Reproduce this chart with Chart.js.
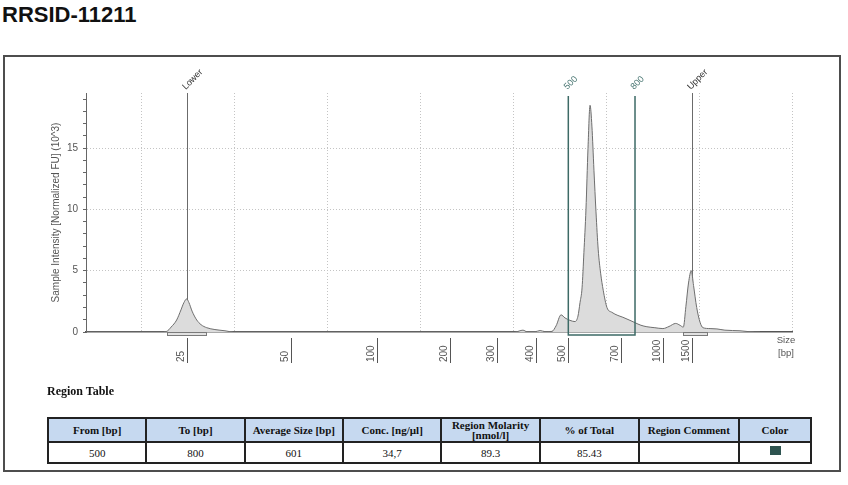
<!DOCTYPE html>
<html><head><meta charset="utf-8">
<script src="https://cdn.jsdelivr.net/npm/chart.js@4.4.1/dist/chart.umd.min.js"></script>
<style>
html,body{margin:0;padding:0;background:#fff;width:848px;height:485px;overflow:hidden;position:relative;}
#title{position:absolute;left:2px;top:2px;font:bold 22px/25px "Liberation Sans",Arial,sans-serif;color:#111;white-space:nowrap;}
#box{position:absolute;left:3px;top:55px;width:838px;height:417px;box-sizing:border-box;border:2px solid #4d4d4d;}
#cv{position:absolute;left:0;top:0;}
#rt{position:absolute;left:47px;top:384px;font:bold 12px/14px "Liberation Serif",serif;color:#111;}
#tbl{position:absolute;left:47px;top:417px;border-collapse:collapse;table-layout:fixed;font-family:"Liberation Serif",serif;}
#tbl th,#tbl td{border:2px solid #222;text-align:center;padding:0;font-size:11px;color:#111;}
#tbl th{background:#c6d9f0;height:22px;font-weight:bold;line-height:10px;}
#tbl td{height:19px;}
.sw{display:inline-block;width:11px;height:9px;vertical-align:top;margin-top:-1px;}
</style></head>
<body>
<div id="title">RRSID-11211</div>
<div id="box"></div>
<canvas id="cv" width="848" height="400"></canvas>
<div id="rt">Region Table</div>
<table id="tbl"><thead><tr id="hr"></tr></thead><tbody><tr id="dr"></tr></tbody></table>
<script>
// Electropherogram data: migration time (s) and intensity (10^3 FU)
const migrationTime = [22.0, 25.98, 26.34, 26.58, 26.88, 27.11, 27.27, 27.42, 27.54, 27.71, 27.96, 28.19, 28.50, 28.94, 29.48, 29.93,
  45.09, 45.52, 45.74, 46.17, 46.44, 46.71, 47.08, 47.30, 47.57, 47.78, 48.05, 48.32, 48.48, 48.59, 48.70, 48.80, 48.91, 49.02, 49.13,
  49.23, 49.34, 49.45, 49.57, 49.70, 49.84, 50.04, 50.31, 50.63, 50.90, 51.28, 51.55, 51.87, 52.19, 52.62, 53.05, 53.38, 53.74, 53.97,
  54.15, 54.29, 54.43, 54.58, 54.70, 54.87, 55.05, 55.21, 55.59, 55.96, 56.39, 57.20, 57.74, 58.28];
const intensity = [0, 0, 0.05, 0.4, 0.98, 1.8, 2.4, 2.7, 2.4, 1.7, 0.98, 0.6, 0.35, 0.2, 0.1, 0,
  0, 0.15, 0.02, 0.02, 0.12, 0.03, 0.05, 0.5, 1.4, 1.15, 0.95, 0.85, 1.3, 2.4, 3.6, 6.5, 10, 15, 18.5,
  16.8, 13.2, 9.8, 6.7, 4.8, 3.4, 2.0, 1.6, 1.35, 1.2, 0.95, 0.76, 0.55, 0.43, 0.35, 0.28, 0.45, 0.7, 0.55,
  0.4, 2.1, 4.0, 5.0, 3.8, 2.0, 0.8, 0.35, 0.28, 0.25, 0.15, 0.1, 0.02, 0];

// Ladder calibration (tick labels in bp at their migration times)
const ladderLabels = ['25', '50', '100', '200', '300', '400', '500', '700', '1000', '1500'];
const ladderTime = [27.42, 33.03, 37.65, 41.59, 44.11, 46.22, 47.96, 50.78, 53.06, 54.60];

// Markers
const markerNames = ['Lower', 'Upper'];
const markerTime = [27.42, 54.60];
const markerStart = [26.34, 54.13];
const markerEnd = [28.46, 55.42];

// Region
const regionLabels = ['500', '800'];
const regionTime = [47.96, 51.55];

// Region table
const tableHeaders = ['From [bp]', 'To [bp]', 'Average Size [bp]', 'Conc. [ng/µl]', 'Region Molarity<br>[nmol/l]', '% of Total', 'Region Comment', 'Color'];
const tableValues = ['500', '800', '601', '34,7', '89.3', '85.43', '', ''];
const colWidths = [96.4, 96.3, 96.3, 96.4, 96.3, 97.3, 97.7, 70.7];

const REGION_COLOR = '#3d6a66';
const FONT = '"Liberation Sans", Arial, sans-serif';

// build table
const hr = document.getElementById('hr'), dr = document.getElementById('dr');
tableHeaders.forEach((h, i) => {
  const th = document.createElement('th'); th.innerHTML = h; th.style.width = colWidths[i] + 'px'; hr.appendChild(th);
  const td = document.createElement('td'); td.textContent = tableValues[i];
  if (i === tableHeaders.length - 1) { const s = document.createElement('span'); s.className = 'sw'; s.style.background = '#2e5450'; td.appendChild(s); }
  dr.appendChild(td);
});

const overlay = {
  id: 'overlay',
  beforeDatasetsDraw(chart) {
    const {ctx, chartArea: a, scales: {x}} = chart;
    ctx.save();
    ctx.strokeStyle = '#6b6b6b'; ctx.lineWidth = 1;
    markerTime.forEach(t => {
      const px = Math.round(x.getPixelForValue(t)) + 0.5;
      ctx.beginPath(); ctx.moveTo(px, a.top); ctx.lineTo(px, a.bottom); ctx.stroke();
    });
    ctx.restore();
  },
  afterDatasetsDraw(chart) {
    const {ctx, chartArea: a, scales: {x}} = chart;
    ctx.save();
    // marker integration boxes
    markerStart.forEach((s, i) => {
      const x1 = Math.round(x.getPixelForValue(s)) + 0.5, x2 = Math.round(x.getPixelForValue(markerEnd[i])) + 0.5;
      ctx.fillStyle = '#e2e2e2'; ctx.fillRect(x1, a.bottom + 0.5, x2 - x1, 3);
      ctx.strokeStyle = '#7a7a7a'; ctx.lineWidth = 1; ctx.strokeRect(x1, a.bottom + 0.5, x2 - x1, 3);
    });
    // region box
    const r1 = x.getPixelForValue(regionTime[0]), r2 = x.getPixelForValue(regionTime[1]);
    ctx.strokeStyle = REGION_COLOR; ctx.lineWidth = 1.5;
    ctx.beginPath(); ctx.moveTo(r1, a.top + 3); ctx.lineTo(r1, a.bottom + 3); ctx.lineTo(r2, a.bottom + 3); ctx.lineTo(r2, a.top + 3); ctx.stroke();
    // rotated labels above
    ctx.font = '9px ' + FONT; ctx.textAlign = 'left'; ctx.textBaseline = 'alphabetic';
    const diag = (txt, t, color) => {
      const px = x.getPixelForValue(t);
      ctx.save(); ctx.translate(px - 1, a.top - 3); ctx.rotate(-Math.PI / 4);
      ctx.fillStyle = color; ctx.fillText(txt, 0, 0); ctx.restore();
    };
    markerNames.forEach((n, i) => diag(n, markerTime[i], '#333'));
    regionLabels.forEach((n, i) => diag(n, regionTime[i], '#4a7773'));
    // ladder ticks below axis
    ctx.strokeStyle = '#555'; ctx.lineWidth = 1;
    ctx.font = '10px ' + FONT; ctx.fillStyle = '#555';
    ladderTime.forEach((t, i) => {
      const px = Math.round(x.getPixelForValue(t)) + 0.5;
      ctx.beginPath(); ctx.moveTo(px, a.bottom + 6); ctx.lineTo(px, a.bottom + 31); ctx.stroke();
      ctx.save(); ctx.translate(px - 4, a.bottom + 30); ctx.rotate(-Math.PI / 2);
      ctx.textAlign = 'left'; ctx.textBaseline = 'alphabetic'; ctx.fillText(ladderLabels[i], 0, 0); ctx.restore();
    });
    // axis unit
    ctx.font = '9.5px ' + FONT; ctx.fillStyle = '#555'; ctx.textAlign = 'center'; ctx.textBaseline = 'middle';
    ctx.fillText('Size', a.right - 6, a.bottom + 8);
    ctx.fillText('[bp]', a.right - 6, a.bottom + 21);
    ctx.restore();
  }
};

new Chart(document.getElementById('cv'), {
  type: 'line',
  data: {
    datasets: [{
      data: migrationTime.map((t, i) => ({x: t, y: intensity[i]})),
      fill: 'origin', backgroundColor: '#dcdcdc', borderColor: '#6e6e6e', borderWidth: 1,
      pointRadius: 0, cubicInterpolationMode: 'monotone'
    }]
  },
  options: {
    responsive: false, animation: false,
    layout: {padding: {top: 93, left: 0, right: 56, bottom: 28}},
    plugins: {legend: {display: false}, tooltip: {enabled: false}},
    scales: {
      x: {
        type: 'linear', min: 22, max: 60,
        afterFit(s) { s.height = 40; },
        ticks: {display: false, stepSize: 5, includeBounds: false},
        grid: {color: '#c4c4c4', drawTicks: false, lineWidth: 1},
        border: {color: '#555', width: 1.5, dash: [1, 2]}
      },
      y: {
        min: 0, max: 19.5,
        afterFit(s) { s.width = 86; },
        ticks: {stepSize: 1, includeBounds: false, autoSkip: false, padding: 5, color: '#555',
          font: {family: FONT, size: 10}, callback: v => (v % 5 === 0 ? v : '')},
        grid: {color: c => (c.tick && c.tick.value % 5 === 0 && c.tick.value !== 0) ? '#c4c4c4' : 'rgba(0,0,0,0)',
          tickColor: '#666', tickLength: 3, drawTicks: true},
        border: {color: '#666', width: 1, dash: [1, 2]},
        title: {display: true, text: 'Sample Intensity [Normalized FU] (10^3)', color: '#555',
          font: {family: FONT, size: 10}, padding: {top: 50, bottom: 0}}
      }
    }
  },
  plugins: [overlay]
});
</script>
</body></html>
